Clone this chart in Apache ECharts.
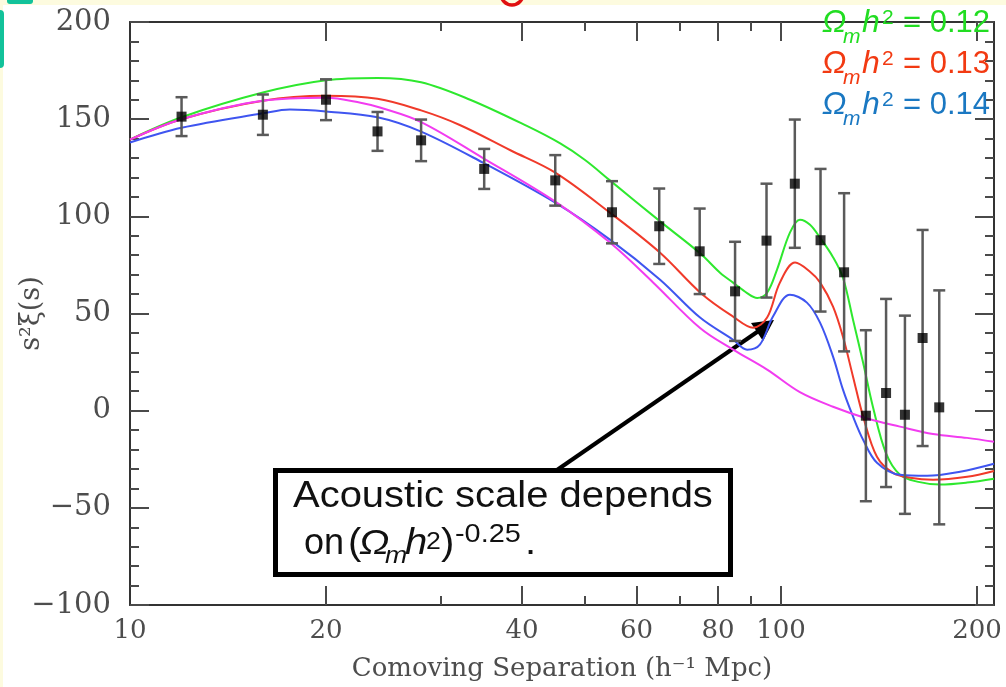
<!DOCTYPE html>
<html>
<head>
<meta charset="utf-8">
<script src="https://cdn.jsdelivr.net/npm/echarts@6/dist/echarts.min.js"></script>
<style>
  html, body { margin: 0; padding: 0; background: #ffffff; }
  #chart { width: 1006px; height: 687px; }
</style>
</head>
<body>
<div id="chart"></div>
<script>
// Redshift-space correlation function, s^2 xi(s), versus comoving separation.

// Measured bins (h^-1 Mpc), values and 1-sigma errors
const sepBins  = [12, 16, 20, 24, 28, 35, 45, 55, 65, 75, 85, 95, 105, 115, 125, 135, 145, 155, 165, 175];
const xiValues = [151.3, 152.3, 160, 143.7, 139.1, 124.4, 118.5, 102.1, 94.9, 82, 61.4, 87.5, 116.8, 87.7, 71.2, -2.6, 9.1, -2.1, 37.4, 1.7];
const xiErrors = [10, 10.4, 10.5, 10, 10.7, 10.3, 13, 16, 19.4, 22, 25.5, 29.3, 33, 36.7, 40.7, 44, 48.4, 51, 55.6, 60.2];

// Model curve, Omega_m h^2 = 0.12
const sepG = [10, 12, 16, 20, 24, 28, 33.3, 40.7, 45.8, 50, 54.6, 65.2, 75.1, 80.6, 84.4, 88.7, 91.9, 95.2, 98.6, 103.2, 106.9, 110.8, 114.8, 120.2, 124.5, 129, 133.7, 138.4, 145, 152.3, 161.8, 175.4, 193.1, 212.4];
const xiG  = [139.5, 151, 163.7, 170, 171.2, 169, 160, 146.5, 137.5, 129, 118.5, 97.4, 81, 71, 65.9, 60.5, 58, 60.7, 72.6, 91.6, 98.3, 95.7, 89, 79, 68.4, 46.8, 24.7, 2, -22, -33, -36.5, -38, -37, -35];

// Model curve, Omega_m h^2 = 0.13
const sepR = [10, 12, 16, 20, 24, 28, 32.1, 38.4, 45, 54.6, 65.2, 75.5, 84.4, 90.6, 95.2, 99.6, 105.1, 110.8, 114.8, 120.2, 124.5, 129, 133.7, 140.4, 148.6, 157.9, 171.2, 193.1, 212.4];
const xiR  = [139.5, 150, 159.5, 162, 160.5, 154.5, 147, 134, 122.5, 101.9, 81.3, 60.2, 48.4, 42.7, 47.9, 65.9, 76.2, 71.5, 66, 53.5, 38, 17.5, -3, -23.7, -32, -34.5, -35.5, -34, -31];

// Model curve, Omega_m h^2 = 0.14
const sepB = [10, 12, 16, 17.6, 20, 24, 28, 34.85, 45, 54.6, 65.2, 75.1, 84.4, 88.7, 92.8, 97.2, 103.2, 109.6, 114.8, 120.2, 124.5, 129, 133.7, 140.4, 152.3, 167.6, 188.4, 212.4];
const xiB  = [138, 145.6, 153, 155, 154, 151, 143.6, 127.6, 107, 88, 67.4, 47.9, 36.5, 31.4, 34, 48.4, 59.7, 55.6, 45.3, 27.8, 10.8, -3, -15, -26.8, -33, -33.5, -31.4, -27.3];

// Model curve without the acoustic feature
const sepM = [10, 12, 16, 20, 22.6, 24.2, 28, 34.85, 45, 54.6, 63.6, 75.1, 84.4, 95.2, 106.9, 120.2, 135.5, 152.3, 171.2, 193.1, 212.4];
const xiM  = [139.5, 150, 159.5, 161, 158.5, 156, 148.5, 130, 107.6, 86.5, 66, 42.5, 31.4, 21.1, 9.5, 2, -4, -8.2, -12, -14, -16];

// Axis ticks and labels
const xLabelValues = [10, 20, 40, 60, 80, 100, 200];
const xMajorTicks = [20, 40, 60, 80, 100, 200];
const xMinorTicks = [30, 50, 70, 90];

const SERIF = 'DejaVu Serif';
const SANS = 'Liberation Sans, Arial, sans-serif';
const FRAME = '#333333';
const TICK = '#4a4a4a';
const LABEL = '#4d4d4d';

const pairs = (xs, ys) => xs.map((x, i) => [x, ys[i]]);
const errRows = sepBins.map((s, i) => [s, xiValues[i] - xiErrors[i], xiValues[i] + xiErrors[i]]);

const xBase = { type: 'log', logBase: 10, min: 10, max: 212.4, gridIndex: 0,
  splitLine: { show: false }, minorTick: { show: false }, minorSplitLine: { show: false } };

function xAxisDef(position, ticks, len, withLine, withLabels) {
  const a = Object.assign({}, xBase, {
    position: position,
    axisLine: { show: withLine, onZero: false, lineStyle: { color: FRAME, width: 2 } },
    axisTick: { show: true, inside: true, length: len, customValues: ticks,
      lineStyle: { color: TICK, width: 2 } },
    axisLabel: { show: false }
  });
  if (withLabels) {
    a.axisLabel = { show: true, customValues: xLabelValues, margin: 13,
      fontFamily: SERIF, fontSize: 26, color: LABEL, hideOverlap: false };
    a.name = 'Comoving Separation (h\u207B\u00B9 Mpc)';
    a.nameLocation = 'middle';
    a.nameGap = 51;
    a.nameMoveOverlap = false;
    a.nameTextStyle = { fontFamily: SERIF, fontSize: 26, color: LABEL, verticalAlign: 'top' };
  }
  return a;
}

function yAxisDef(position, withLabels) {
  const a = {
    type: 'value', min: -100, max: 200, interval: 50, position: position,
    splitLine: { show: false },
    axisLine: { show: true, onZero: false, lineStyle: { color: FRAME, width: 2 } },
    axisTick: { show: true, inside: true, length: 19, lineStyle: { color: TICK, width: 2 } },
    minorTick: { show: true, splitNumber: 5, length: 9, lineStyle: { color: TICK, width: 2 } },
    axisLabel: { show: false }
  };
  if (withLabels) {
    a.axisLabel = { show: true, margin: 19, fontFamily: SERIF, fontSize: 29, color: LABEL,
      formatter: v => String(v).replace('-', '\u2212') };
    a.name = 's\u00B2\u03BE(s)';
    a.nameLocation = 'middle';
    a.nameGap = 98;
    a.nameMoveOverlap = false;
    a.nameTextStyle = { fontFamily: SERIF, fontSize: 27, color: LABEL, verticalAlign: 'middle' };
  }
  return a;
}

const chart = echarts.init(document.getElementById('chart'), null, { renderer: 'canvas' });

function lineSeries(name, data, color) {
  return { name: name, type: 'line', xAxisIndex: 0, yAxisIndex: 0, data: data,
    showSymbol: false, smooth: 0.35, clip: true, z: 2,
    lineStyle: { color: color, width: 2 }, itemStyle: { color: color } };
}

// Text piece placed by its baseline
function piece(x, base, text, size, color, opts) {
  opts = opts || {};
  const el = { type: 'text', x: x, y: base - 0.8 * size,
    style: { text: text, font: (opts.italic ? 'italic ' : '') + size + 'px ' + SANS,
      fill: color, verticalAlign: 'top', align: 'left' } };
  if (opts.scaleX) el.scaleX = opts.scaleX;
  return el;
}

// Pieces of the  Omega_m h^2 = value  labels
function omegaLabel(base, color, value) {
  return [
    piece(822, base, '\u03A9', 32, color, { italic: true }),
    piece(843, base + 10, 'm', 21, color, { italic: true }),
    piece(862, base, 'h', 32, color, { italic: true }),
    piece(882, base - 8, '2', 21, color),
    piece(903, base, '= ' + value, 31, color)
  ];
}

const legendItems = [].concat(
  omegaLabel(33, '#22dd22', '0.12'),
  omegaLabel(74, '#f23a12', '0.13'),
  omegaLabel(115, '#1a78c2', '0.14')
);

// Annotation box with its arrow
const SX = { scaleX: 1.11 };
const SXI = { scaleX: 1.11, italic: true };
const annot = {
  type: 'group', z: 50, children: [
    { type: 'line', shape: { x1: 557, y1: 470, x2: 760, y2: 330 }, style: { stroke: '#000', lineWidth: 4 } },
    { type: 'polygon', shape: { points: [[774, 320], [751, 323], [763, 341]] }, style: { fill: '#000' } },
    { type: 'rect', shape: { x: 275.5, y: 470.5, width: 455, height: 104 }, style: { fill: '#fff', stroke: '#000', lineWidth: 5 } },
    piece(293, 508, 'Acoustic scale depends', 36, '#111', SX),
    piece(304, 555, 'on', 36, '#111'),
    piece(348, 555, '(', 36, '#111', SX),
    piece(359, 555, '\u03A9', 36, '#111', SXI),
    piece(385, 564, 'm', 24, '#111', SXI),
    piece(405, 555, 'h', 36, '#111', SXI),
    piece(426, 550, '2', 24, '#111', SX),
    piece(441, 555, ')', 36, '#111', SX),
    piece(455, 543, '-0.25', 26, '#111', SX),
    piece(525, 555, '.', 36, '#111', SX)
  ]
};

// Slide trim around the figure
const trim = [
  { type: 'rect', z: 0, shape: { x: 0, y: 0, width: 1006, height: 5 }, style: { fill: '#fdfbdf' } },
  { type: 'rect', z: 0, shape: { x: 0, y: 0, width: 3, height: 687 }, style: { fill: '#fdfbdf' } },
  { type: 'rect', z: 1, shape: { x: 7, y: 0, width: 26, height: 4, r: [0, 0, 3, 3] }, style: { fill: '#12c29a' } },
  { type: 'rect', z: 1, shape: { x: 0, y: 10, width: 4, height: 58, r: [0, 4, 4, 0] }, style: { fill: '#12c29a' } },
  { type: 'arc', z: 1, shape: { cx: 512, cy: -6, r: 11, startAngle: 0, endAngle: Math.PI }, style: { stroke: '#e01010', lineWidth: 3.5, fill: null } }
];

chart.setOption({
  animation: false,
  backgroundColor: '#ffffff',
  grid: { left: 130, right: 12, top: 22, bottom: 82, containLabel: false, outerBoundsMode: 'none' },
  xAxis: [
    xAxisDef('bottom', xMajorTicks, 19, true, true),
    xAxisDef('bottom', xMinorTicks, 9, false, false),
    xAxisDef('top', xMajorTicks, 19, true, false),
    xAxisDef('top', xMinorTicks, 9, false, false)
  ],
  yAxis: [yAxisDef('left', true), yAxisDef('right', false)],
  series: [
    lineSeries('\u03A9mh\u00B2 = 0.12', pairs(sepG, xiG), '#2ee82e'),
    lineSeries('\u03A9mh\u00B2 = 0.13', pairs(sepR, xiR), '#f03a2a'),
    lineSeries('\u03A9mh\u00B2 = 0.14', pairs(sepB, xiB), '#3f55f0'),
    lineSeries('no acoustic peak', pairs(sepM, xiM), '#f23cf0'),
    {
      name: 'errors', type: 'custom', xAxisIndex: 0, yAxisIndex: 0, z: 3,
      data: errRows, encode: { x: 0, y: [1, 2] },
      renderItem: function (params, api) {
        const x = api.value(0);
        const lo = api.coord([x, api.value(1)]);
        const hi = api.coord([x, api.value(2)]);
        const c = 6;
        const st = { stroke: '#5a5a5a', lineWidth: 2.5 };
        return { type: 'group', children: [
          { type: 'line', shape: { x1: lo[0], y1: lo[1], x2: hi[0], y2: hi[1] }, style: st },
          { type: 'line', shape: { x1: lo[0] - c, y1: lo[1], x2: lo[0] + c, y2: lo[1] }, style: st },
          { type: 'line', shape: { x1: hi[0] - c, y1: hi[1], x2: hi[0] + c, y2: hi[1] }, style: st }
        ] };
      }
    },
    {
      name: 'data', type: 'scatter', xAxisIndex: 0, yAxisIndex: 0, z: 4,
      data: pairs(sepBins, xiValues), symbol: 'rect', symbolSize: 10,
      itemStyle: { color: '#000000' }
    }
  ],
  graphic: trim.concat(legendItems.map(e => Object.assign({ z: 20 }, e))).concat([annot])
});
</script>
</body>
</html>
